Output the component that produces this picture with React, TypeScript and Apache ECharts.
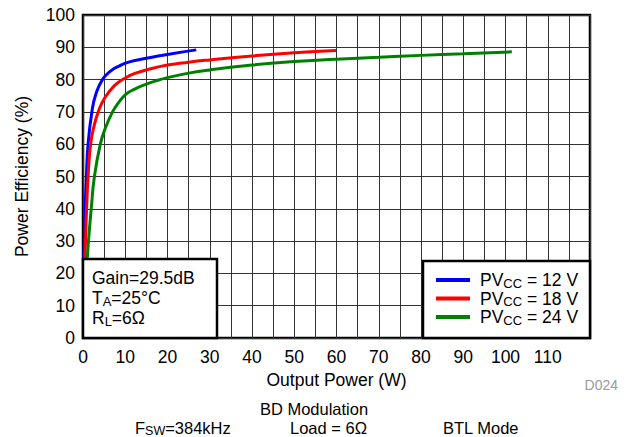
import React, { useEffect, useRef } from "react";
import * as echarts from "echarts";

const blueX = [0.2, 0.5, 0.8, 1.2, 2.1, 3.0, 4.6, 6.5, 8.5, 11, 15, 20, 26.8];
const blueY = [25, 40, 50, 60, 70, 75.3, 80, 82.6, 84.2, 85.5, 86.6, 87.8, 89.2];

const redX = [0.3, 0.6, 0.85, 1.2, 1.8, 2.6, 3.6, 5, 7.5, 10, 12.5, 15, 20, 25, 30, 40, 50, 59.9];
const redY = [20, 30, 40, 50, 60, 65.5, 70, 74, 78.2, 80.5, 82, 83, 84.5, 85.4, 86.1, 87.3, 88.3, 89.0];

const greenX = [0.8, 1.3, 1.95, 2.7, 4.1, 5.3, 7.0, 8.5, 10, 12, 15, 17.5, 20, 25, 30, 40, 50, 60, 70, 80, 90, 101.5];
const greenY = [20, 30, 40, 50, 60, 65, 70, 73, 75.3, 76.9, 78.6, 79.7, 80.6, 82.0, 83.0, 84.5, 85.6, 86.3, 86.9, 87.5, 88.0, 88.6];

const seriesNames = ["PVCC = 12 V", "PVCC = 18 V", "PVCC = 24 V"];
const seriesLabels = ["PV{s|CC} = 12 V", "PV{s|CC} = 18 V", "PV{s|CC} = 24 V"];
const seriesColors = ["#0000ff", "#ff0000", "#008000"];

const xTickLabels = ["0", "10", "20", "30", "40", "50", "60", "70", "80", "90", "100", "110"];
const yTickLabels = ["0", "10", "20", "30", "40", "50", "60", "70", "80", "90", "100"];

const FONT = "Liberation Sans, Arial, sans-serif";
const FS = 17.5;
const FB = 16.5;

function zip(xs: number[], ys: number[]) {
  return xs.map((x, i) => [x, ys[i]]);
}

export default function App() {
  const ref = useRef<HTMLDivElement>(null);
  useEffect(() => {
    if (!ref.current) return;
    const chart = echarts.init(ref.current, undefined, { renderer: "svg" });
    const data = [zip(blueX, blueY), zip(redX, redY), zip(greenX, greenY)];
    const n = { fontSize: FS, fontFamily: FONT, color: "#000" };
    const s = { fontSize: 13, fontFamily: FONT, color: "#000", padding: [7, 0, 0, 0] };
    chart.setOption({
      animation: false,
      backgroundColor: "#fff",
      grid: {
        left: 83,
        top: 15,
        right: 39,
        bottom: 99,
        show: true,
        borderColor: "#000",
        borderWidth: 2.5,
        backgroundColor: "transparent",
      },
      xAxis: {
        type: "value",
        min: 0,
        max: 120,
        interval: 5,
        name: "Output Power (W)",
        nameLocation: "middle",
        nameGap: 31,
        nameTextStyle: { fontSize: FS, fontFamily: FONT, color: "#000" },
        axisLine: { show: false },
        axisTick: { show: false },
        axisLabel: {
          fontSize: FS,
          fontFamily: FONT,
          color: "#000",
          margin: 10,
          formatter: (v: number) => {
            const t = String(v);
            return xTickLabels.includes(t) ? t : "";
          },
        },
        splitLine: { show: true, lineStyle: { color: "#333", width: 1 } },
      },
      yAxis: {
        type: "value",
        min: 0,
        max: 100,
        interval: 10,
        name: "Power Efficiency (%)",
        nameLocation: "middle",
        nameGap: 52,
        nameTextStyle: { fontSize: FS, fontFamily: FONT, color: "#000" },
        axisLine: { show: false },
        axisTick: { show: false },
        axisLabel: {
          fontSize: FS,
          fontFamily: FONT,
          color: "#000",
          margin: 8,
          formatter: (v: number) => (yTickLabels.includes(String(v)) ? String(v) : ""),
        },
        splitLine: { show: true, lineStyle: { color: "#333", width: 1 } },
      },
      legend: {
        show: true,
        orient: "vertical",
        left: 431,
        top: 266,
        itemWidth: 34,
        itemHeight: 4,
        itemGap: 0,
        icon: "rect",
        z: 20,
        data: seriesNames,
        formatter: (name: string) => seriesLabels[seriesNames.indexOf(name)],
        textStyle: {
          fontSize: FS,
          fontFamily: FONT,
          color: "#000",
          padding: [0, 0, 0, 5],
          rich: { s: { ...s, padding: [6, 0, 0, 0] } },
        },
      },
      series: seriesNames.map((name, i) => ({
        name,
        type: "line",
        data: data[i],
        smooth: 0.5,
        showSymbol: false,
        symbol: "none",
        lineStyle: { color: seriesColors[i], width: 3 },
        itemStyle: { color: seriesColors[i] },
        z: 3,
      })),
      graphic: [
        {
          type: "rect",
          z: 10,
          shape: { x: 83, y: 259, width: 134, height: 79 },
          style: { fill: "#fff", stroke: "#000", lineWidth: 2.5 },
        },
        {
          type: "rect",
          z: 10,
          shape: { x: 423, y: 261, width: 167, height: 77 },
          style: { fill: "#fff", stroke: "#000", lineWidth: 2.5 },
        },
        {
          type: "text",
          z: 11,
          x: 92,
          y: 268,
          style: {
            text: "{n|Gain=29.5dB}\n{n|T}{s|A}{n|=25°C}\n{n|R}{s|L}{n|=6Ω}",
            rich: { n: { ...n, lineHeight: 20 }, s: { ...s, lineHeight: 20 } },
            fill: "#000",
          },
        },
        {
          type: "text",
          z: 11,
          x: 618,
          y: 385,
          style: {
            text: "D024",
            fontSize: 14,
            fontFamily: FONT,
            fill: "#999",
            align: "right",
            verticalAlign: "middle",
          },
        },
        {
          type: "text",
          z: 11,
          x: 314,
          y: 408.5,
          style: {
            text: "BD Modulation",
            fontSize: FB,
            fontFamily: FONT,
            fill: "#000",
            align: "center",
            verticalAlign: "middle",
          },
        },
        {
          type: "text",
          z: 11,
          x: 135,
          y: 417.5,
          style: {
            text: "{n|F}{s|SW}{n|=384kHz}",
            rich: {
              n: { fontSize: FB, fontFamily: FONT, color: "#000" },
              s: { fontSize: 12.5, fontFamily: FONT, color: "#000", padding: [7, 0, 0, 0] },
            },
            fill: "#000",
          },
        },
        {
          type: "text",
          z: 11,
          x: 290,
          y: 427.5,
          style: {
            text: "Load = 6Ω",
            fontSize: FB,
            fontFamily: FONT,
            fill: "#000",
            verticalAlign: "middle",
          },
        },
        {
          type: "text",
          z: 11,
          x: 443,
          y: 427.5,
          style: {
            text: "BTL Mode",
            fontSize: FB,
            fontFamily: FONT,
            fill: "#000",
            verticalAlign: "middle",
          },
        },
      ],
    });
    return () => chart.dispose();
  }, []);
  return (
    <div
      ref={ref}
      style={{ position: "fixed", left: 0, top: 0, width: 629, height: 437 }}
    />
  );
}
